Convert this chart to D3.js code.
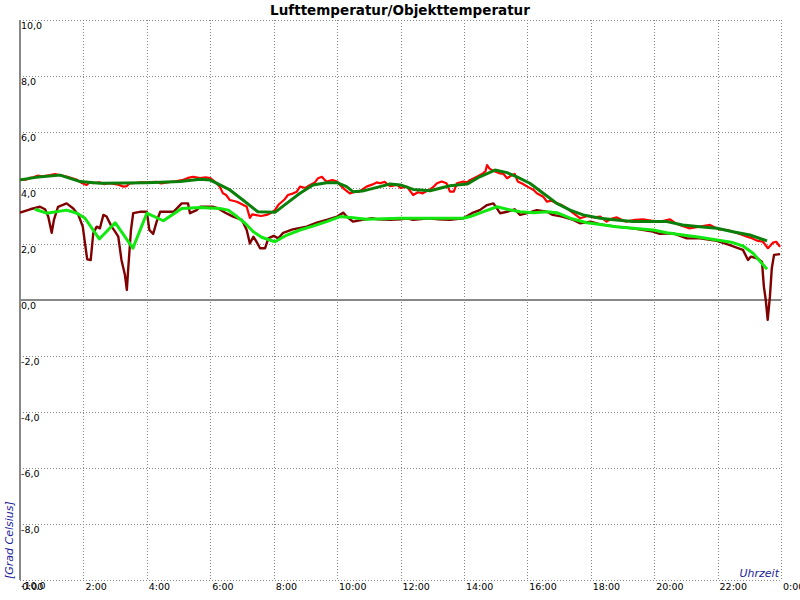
<!DOCTYPE html>
<html><head><meta charset="utf-8">
<script src="https://cdn.jsdelivr.net/npm/d3@7"></script>
<style>
html,body{margin:0;padding:0;background:#fff;}
svg{display:block;}
text{font-family:"DejaVu Sans",sans-serif;}
</style></head>
<body><svg id="c" width="800" height="600"></svg>
<script>
const title = "Lufttemperatur/Objekttemperatur";
const yAxisTitle = "[Grad Celsius]";
const xAxisTitle = "Uhrzeit";
const xTickHours = [0,2,4,6,8,10,12,14,16,18,20,22,24];
const xTickLabels = ["0:00","2:00","4:00","6:00","8:00","10:00","12:00","14:00","16:00","18:00","20:00","22:00","0:00"];
const yTickValues = [-10,-8,-6,-4,-2,0,2,4,6,8,10];
const yTickLabels = ["-10,0","-8,0","-6,0","-4,0","-2,0","0,0","2,0","4,0","6,0","8,0","10,0"];

// [hour, °C]
const luftRaw = [[0,4.29],[0.2,4.3],[0.3,4.36],[0.42,4.38],[0.55,4.44],[0.7,4.42],[0.95,4.46],[1.1,4.5],[1.26,4.46],[1.5,4.4],[1.65,4.35],[1.8,4.29],[1.95,4.18],[2.1,4.11],[2.2,4.2],[2.3,4.17],[2.5,4.2],[2.65,4.14],[2.8,4.17],[3.1,4.12],[3.25,4.05],[3.37,4.07],[3.45,4.16],[3.57,4.17],[3.8,4.2],[4.0,4.2],[4.3,4.22],[4.45,4.16],[4.6,4.19],[4.9,4.24],[5.15,4.29],[5.3,4.36],[5.46,4.4],[5.68,4.35],[5.85,4.38],[6.0,4.35],[6.15,4.22],[6.3,4.05],[6.4,3.81],[6.5,3.75],[6.62,3.57],[6.84,3.51],[7.0,3.42],[7.15,3.33],[7.25,2.93],[7.32,3.06],[7.41,3.04],[7.6,3.0],[7.78,3.04],[7.9,3.1],[8.04,3.21],[8.15,3.4],[8.26,3.51],[8.35,3.6],[8.45,3.75],[8.6,3.8],[8.73,3.87],[8.83,4.05],[9.0,4.0],[9.15,4.11],[9.3,4.2],[9.4,4.35],[9.52,4.4],[9.6,4.3],[9.67,4.23],[9.85,4.28],[10.0,4.23],[10.1,4.1],[10.2,3.99],[10.4,3.81],[10.55,3.86],[10.7,3.87],[10.8,3.95],[10.93,4.05],[11.1,4.12],[11.25,4.2],[11.35,4.17],[11.5,4.22],[11.6,4.12],[11.67,4.07],[11.9,4.11],[12.0,4.0],[12.2,4.05],[12.3,3.9],[12.4,3.75],[12.55,3.85],[12.7,3.81],[12.93,3.95],[13.05,4.05],[13.15,4.17],[13.3,4.23],[13.45,4.17],[13.56,3.87],[13.68,3.87],[13.78,4.17],[13.98,4.23],[14.1,4.2],[14.2,4.29],[14.41,4.4],[14.6,4.52],[14.68,4.6],[14.73,4.82],[14.8,4.7],[14.88,4.64],[15.0,4.58],[15.14,4.52],[15.25,4.5],[15.36,4.35],[15.5,4.45],[15.6,4.5],[15.7,4.23],[15.85,4.15],[16.0,4.05],[16.2,3.93],[16.3,3.81],[16.5,3.69],[16.62,3.51],[16.75,3.55],[16.93,3.45],[17.1,3.38],[17.25,3.27],[17.45,3.1],[17.66,2.92],[17.9,3.0],[18.1,2.95],[18.3,2.98],[18.5,2.8],[18.65,2.9],[18.82,2.95],[19.1,2.8],[19.4,2.86],[19.65,2.88],[19.9,2.84],[20.2,2.8],[20.5,2.88],[20.65,2.76],[20.8,2.68],[21.1,2.56],[21.44,2.62],[21.76,2.68],[21.9,2.6],[22.07,2.52],[22.3,2.5],[22.48,2.44],[22.7,2.36],[22.93,2.26],[23.1,2.2],[23.24,2.12],[23.43,2.08],[23.59,1.85],[23.75,2.05],[23.85,2.08],[23.97,1.9]];
const luftSmooth = [[0,4.29],[0.5,4.38],[1.26,4.46],[1.9,4.23],[2.52,4.17],[3.3,4.18],[4.0,4.19],[5.05,4.23],[5.68,4.31],[5.99,4.29],[6.62,3.93],[7.03,3.57],[7.5,3.15],[8.04,3.13],[8.42,3.46],[8.83,3.81],[9.24,4.11],[9.67,4.19],[10.0,4.19],[10.3,4.05],[10.5,3.87],[10.8,3.89],[11.35,4.05],[11.67,4.14],[12.0,4.11],[12.4,3.95],[12.93,3.9],[13.56,4.08],[14.1,4.14],[14.5,4.4],[14.98,4.64],[15.36,4.55],[15.67,4.4],[16.08,4.17],[16.5,3.81],[16.93,3.45],[17.35,3.21],[17.76,3.04],[18.3,2.92],[18.8,2.86],[19.33,2.8],[20.4,2.8],[20.9,2.68],[21.44,2.62],[21.98,2.56],[22.48,2.44],[23.02,2.32],[23.56,2.11]];
const objektRaw = [[0,3.12],[0.32,3.24],[0.63,3.33],[0.79,3.24],[0.89,2.98],[1.0,2.4],[1.07,2.86],[1.2,3.33],[1.47,3.45],[1.68,3.27],[1.84,3.04],[1.98,2.62],[2.05,2.02],[2.12,1.45],[2.23,1.43],[2.31,2.38],[2.42,2.62],[2.52,2.56],[2.63,3.04],[2.73,2.98],[2.89,2.62],[3.0,2.44],[3.1,2.26],[3.2,1.43],[3.31,0.89],[3.37,0.36],[3.41,1.07],[3.5,2.5],[3.57,3.1],[3.78,3.15],[4.0,3.15],[4.08,2.5],[4.2,2.36],[4.31,2.8],[4.42,3.15],[4.84,3.15],[5.1,3.45],[5.3,3.45],[5.36,3.1],[5.57,3.21],[5.68,3.33],[6.1,3.33],[6.25,3.27],[6.5,3.1],[6.72,2.98],[7.0,2.86],[7.15,2.5],[7.25,2.02],[7.36,2.26],[7.46,2.08],[7.57,1.85],[7.73,1.85],[7.83,2.2],[8.0,2.29],[8.15,2.2],[8.3,2.4],[8.6,2.52],[9.04,2.62],[9.36,2.76],[9.67,2.86],[10.0,2.98],[10.2,3.12],[10.3,2.98],[10.5,2.8],[10.8,2.86],[11.1,2.92],[11.3,2.88],[11.67,2.86],[12.0,2.88],[12.2,2.92],[12.4,2.86],[12.9,2.92],[13.2,2.88],[13.56,2.86],[13.98,2.92],[14.25,3.1],[14.5,3.21],[14.73,3.39],[14.93,3.45],[15.04,3.27],[15.14,3.1],[15.36,3.15],[15.6,3.24],[15.77,3.04],[16.0,3.1],[16.3,3.21],[16.62,3.15],[16.8,3.04],[17.1,2.98],[17.45,2.86],[17.66,2.74],[18.0,2.8],[18.3,2.7],[18.8,2.62],[19.33,2.56],[19.96,2.44],[20.18,2.36],[20.6,2.38],[21.03,2.2],[21.44,2.2],[21.98,2.11],[22.39,1.96],[22.6,1.87],[22.8,1.79],[22.96,1.43],[23.05,1.55],[23.24,1.49],[23.4,1.37],[23.46,0.48],[23.52,0.0],[23.58,-0.71],[23.65,0.12],[23.71,1.13],[23.78,1.61],[23.97,1.64]];
const objektSmooth = [[0.47,3.24],[0.84,3.1],[1.47,3.21],[1.8,3.1],[2.05,2.92],[2.5,2.18],[3.0,2.76],[3.56,1.85],[4.0,3.1],[4.52,2.83],[5.1,3.27],[5.68,3.3],[6.3,3.27],[6.57,3.21],[6.84,2.98],[7.1,2.74],[7.36,2.44],[7.62,2.24],[8.04,2.08],[8.42,2.32],[8.83,2.5],[9.24,2.64],[9.67,2.8],[10.1,2.98],[10.5,2.94],[10.93,2.88],[12.0,2.92],[13.98,2.92],[14.2,2.98],[14.6,3.15],[15.04,3.33],[15.36,3.24],[15.77,3.15],[16.2,3.12],[16.62,3.15],[16.93,3.12],[17.35,2.92],[17.88,2.76],[18.3,2.7],[18.8,2.62],[19.33,2.56],[19.96,2.5],[20.4,2.4],[20.9,2.32],[21.44,2.24],[21.98,2.14],[22.48,2.05],[22.8,1.93],[23.12,1.67],[23.56,1.1]];

const svg = d3.select("#c");
svg.append("rect").attr("width",800).attr("height",600).attr("fill","#fff");
const x = d3.scaleLinear().domain([0,24]).range([20,781]);
const y = d3.scaleLinear().domain([-10,10]).range([580,20]);

const grid = svg.append("g");
grid.selectAll("line.v").data(xTickHours.slice(1)).enter().append("line")
  .attr("x1",d=>Math.round(x(d))+0.5).attr("x2",d=>Math.round(x(d))+0.5)
  .attr("y1",y(10)).attr("y2",y(-10))
  .attr("stroke","#888").attr("stroke-dasharray","1,2");
grid.selectAll("line.h").data(yTickValues).enter().append("line")
  .attr("x1",x(0)).attr("x2",x(24))
  .attr("y1",d=>Math.round(y(d))+0.5).attr("y2",d=>Math.round(y(d))+0.5)
  .attr("stroke","#888").attr("stroke-dasharray","1,2");

// zero line and left axis
svg.append("line").attr("x1",x(0)).attr("x2",x(24)).attr("y1",y(0)).attr("y2",y(0))
  .attr("stroke","#888").attr("stroke-width",2);
svg.append("line").attr("x1",x(0)).attr("x2",x(0)).attr("y1",y(10)).attr("y2",y(-10))
  .attr("stroke","#888").attr("stroke-width",2);

const line = d3.line().x(d=>x(d[0])).y(d=>y(d[1]));
const series = [
  {data:luftRaw, color:"#ff0000", w:2.2},
  {data:objektRaw, color:"#800000", w:2.4},
  {data:luftSmooth, color:"#0a800a", w:3},
  {data:objektSmooth, color:"#10e810", w:3}
];
svg.selectAll("path.s").data(series).enter().append("path")
  .attr("d",d=>line(d.data)).attr("fill","none")
  .attr("stroke",d=>d.color).attr("stroke-width",d=>d.w)
  .attr("stroke-linejoin","round");

// y tick labels
svg.selectAll("text.yl").data(yTickValues).enter().append("text")
  .attr("x",x(0)+1).attr("y",d=>y(d)+9)
  .attr("font-size","9.5px").attr("fill","#000")
  .text((d,i)=>yTickLabels[i]);
// x tick labels
svg.selectAll("text.xl").data(xTickHours).enter().append("text")
  .attr("x",d=>x(d)+2).attr("y",590)
  .attr("font-size","9.5px").attr("fill","#000")
  .text((d,i)=>xTickLabels[i]);

svg.append("text").attr("x",400).attr("y",15).attr("text-anchor","middle")
  .attr("font-size","13.5px").attr("font-weight","bold").text(title);
svg.append("text").attr("transform","translate(13,579) rotate(-90)")
  .attr("font-size","11px").attr("font-style","italic").attr("fill","#22229a")
  .text(yAxisTitle);
svg.append("text").attr("x",779).attr("y",577).attr("text-anchor","end")
  .attr("font-size","11px").attr("font-style","italic").attr("fill","#22229a")
  .text(xAxisTitle);
</script></body></html>
